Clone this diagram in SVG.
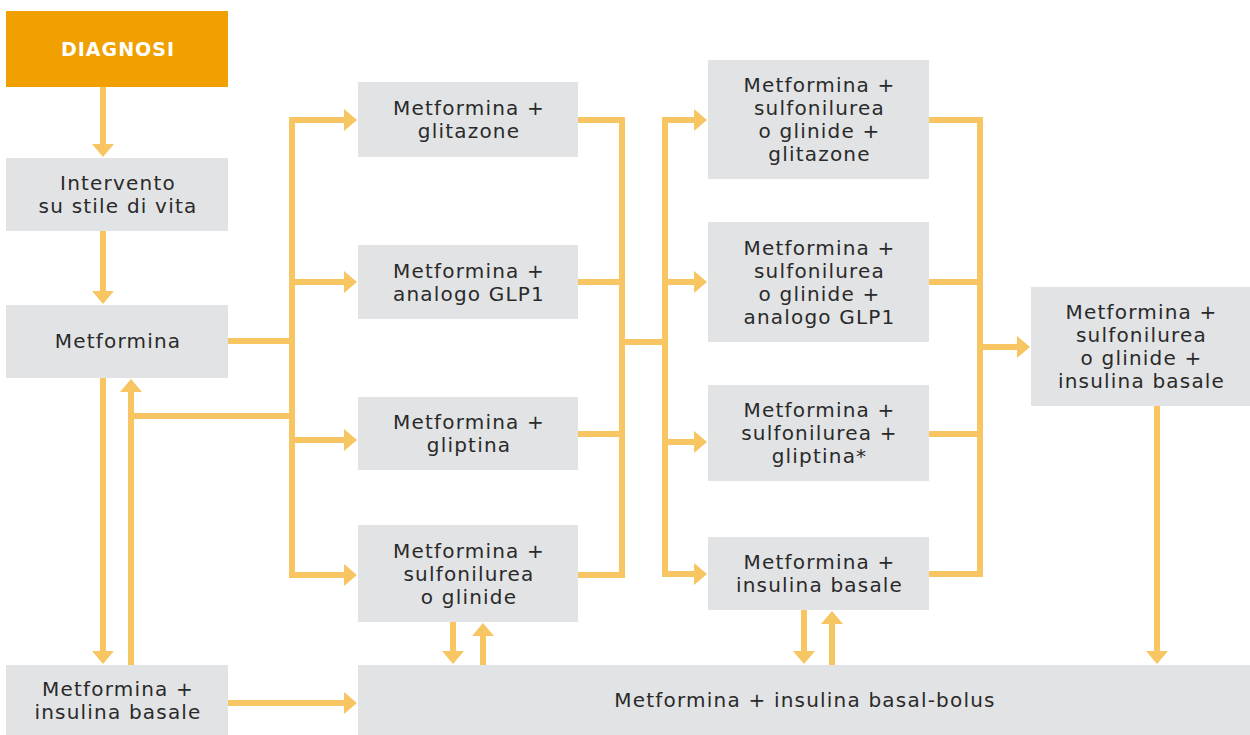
<svg xmlns="http://www.w3.org/2000/svg" width="1250" height="735" viewBox="0 0 1250 735">
<style>
.box{fill:#e2e3e5}
.start{fill:#f0a000}
.t{font-family:"DejaVu Sans","Liberation Sans",sans-serif;font-size:20px;letter-spacing:1.2px;fill:#2a2a2a;text-anchor:middle}
.h{font-family:"DejaVu Sans","Liberation Sans",sans-serif;font-size:19px;font-weight:bold;letter-spacing:1px;fill:#ffffff;text-anchor:middle}
.c{fill:none;stroke:#f7c562;stroke-width:6;stroke-linejoin:miter;stroke-linecap:butt}
.a{marker-end:url(#ah)}
.ab{marker-start:url(#ah);marker-end:url(#ah)}
</style>
<defs>
<marker id="ah" markerUnits="userSpaceOnUse" viewBox="0 0 13 22" markerWidth="13" markerHeight="22" refX="1" refY="11" orient="auto-start-reverse">
<path d="M0,0 L13,11 L0,22 z" fill="#f7c562"/>
</marker>
</defs>
<rect width="1250" height="735" fill="#ffffff"/>
<g id="connectors">
<path class="c a" d="M103,86 V145"/>
<path class="c a" d="M103,231 V292"/>
<path class="c" d="M228,341 H292"/>
<path class="c ab" d="M345,575 H292 V120 H345"/>
<path class="c a" d="M292,282 H345"/>
<path class="c a" d="M292,440 H345"/>
<path class="c a" d="M292,416 H131 V391"/>
<path class="c" d="M131,665 V416"/>
<path class="c a" d="M103,378 V652"/>
<path class="c a" d="M228,703 H345"/>
<path class="c" d="M578,120 H622 V575 H578"/>
<path class="c" d="M578,282 H622"/>
<path class="c" d="M578,434 H622"/>
<path class="c" d="M622,342 H665"/>
<path class="c ab" d="M695,120 H665 V574 H695"/>
<path class="c a" d="M665,282 H695"/>
<path class="c a" d="M665,442 H695"/>
<path class="c" d="M929,120 H980 V574 H929"/>
<path class="c" d="M929,282 H980"/>
<path class="c" d="M929,434 H980"/>
<path class="c a" d="M980,347 H1018"/>
<path class="c a" d="M453,622 V652"/>
<path class="c a" d="M483,665 V635"/>
<path class="c a" d="M804,610 V652"/>
<path class="c a" d="M832,665 V623"/>
<path class="c a" d="M1157,406 V652"/>
</g>
<g id="diagnosi">
<rect class="start" x="6" y="11" width="222" height="76"/>
<text class="h" x="118" y="55.5">DIAGNOSI</text>
</g>
<g id="intervento">
<rect class="box" x="6" y="158" width="222" height="73"/>
<text class="t" x="118" y="190">Intervento</text>
<text class="t" x="118" y="213">su stile di vita</text>
</g>
<g id="metformina">
<rect class="box" x="6" y="305" width="222" height="73"/>
<text class="t" x="118" y="348">Metformina</text>
</g>
<g id="metformina-insulina-basale-1">
<rect class="box" x="6" y="665" width="222" height="70"/>
<text class="t" x="118" y="696">Metformina +</text>
<text class="t" x="118" y="719">insulina basale</text>
</g>
<g id="metformina-glitazone">
<rect class="box" x="358" y="82" width="220" height="75"/>
<text class="t" x="469" y="115">Metformina +</text>
<text class="t" x="469" y="138">glitazone</text>
</g>
<g id="metformina-glp1">
<rect class="box" x="358" y="245" width="220" height="74"/>
<text class="t" x="469" y="277.5">Metformina +</text>
<text class="t" x="469" y="300.5">analogo GLP1</text>
</g>
<g id="metformina-gliptina">
<rect class="box" x="358" y="397" width="220" height="73"/>
<text class="t" x="469" y="429">Metformina +</text>
<text class="t" x="469" y="452">gliptina</text>
</g>
<g id="metformina-sulfonilurea">
<rect class="box" x="358" y="525" width="220" height="97"/>
<text class="t" x="469" y="557.5">Metformina +</text>
<text class="t" x="469" y="580.5">sulfonilurea</text>
<text class="t" x="469" y="603.5">o glinide</text>
</g>
<g id="triple-glitazone">
<rect class="box" x="708" y="60" width="221" height="119"/>
<text class="t" x="819.5" y="92">Metformina +</text>
<text class="t" x="819.5" y="115">sulfonilurea</text>
<text class="t" x="819.5" y="138">o glinide +</text>
<text class="t" x="819.5" y="161">glitazone</text>
</g>
<g id="triple-glp1">
<rect class="box" x="708" y="222" width="221" height="120"/>
<text class="t" x="819.5" y="254.5">Metformina +</text>
<text class="t" x="819.5" y="277.5">sulfonilurea</text>
<text class="t" x="819.5" y="300.5">o glinide +</text>
<text class="t" x="819.5" y="323.5">analogo GLP1</text>
</g>
<g id="triple-gliptina">
<rect class="box" x="708" y="385" width="221" height="96"/>
<text class="t" x="819.5" y="417">Metformina +</text>
<text class="t" x="819.5" y="440">sulfonilurea +</text>
<text class="t" x="819.5" y="463">gliptina*</text>
</g>
<g id="metformina-insulina-basale-2">
<rect class="box" x="708" y="537" width="221" height="73"/>
<text class="t" x="819.5" y="569">Metformina +</text>
<text class="t" x="819.5" y="592">insulina basale</text>
</g>
<g id="quad-insulina">
<rect class="box" x="1031" y="287" width="219" height="119"/>
<text class="t" x="1141.5" y="319">Metformina +</text>
<text class="t" x="1141.5" y="342">sulfonilurea</text>
<text class="t" x="1141.5" y="365">o glinide +</text>
<text class="t" x="1141.5" y="388">insulina basale</text>
</g>
<g id="basal-bolus">
<rect class="box" x="358" y="665" width="892" height="70"/>
<text class="t" x="805" y="707">Metformina + insulina basal-bolus</text>
</g>
</svg>
